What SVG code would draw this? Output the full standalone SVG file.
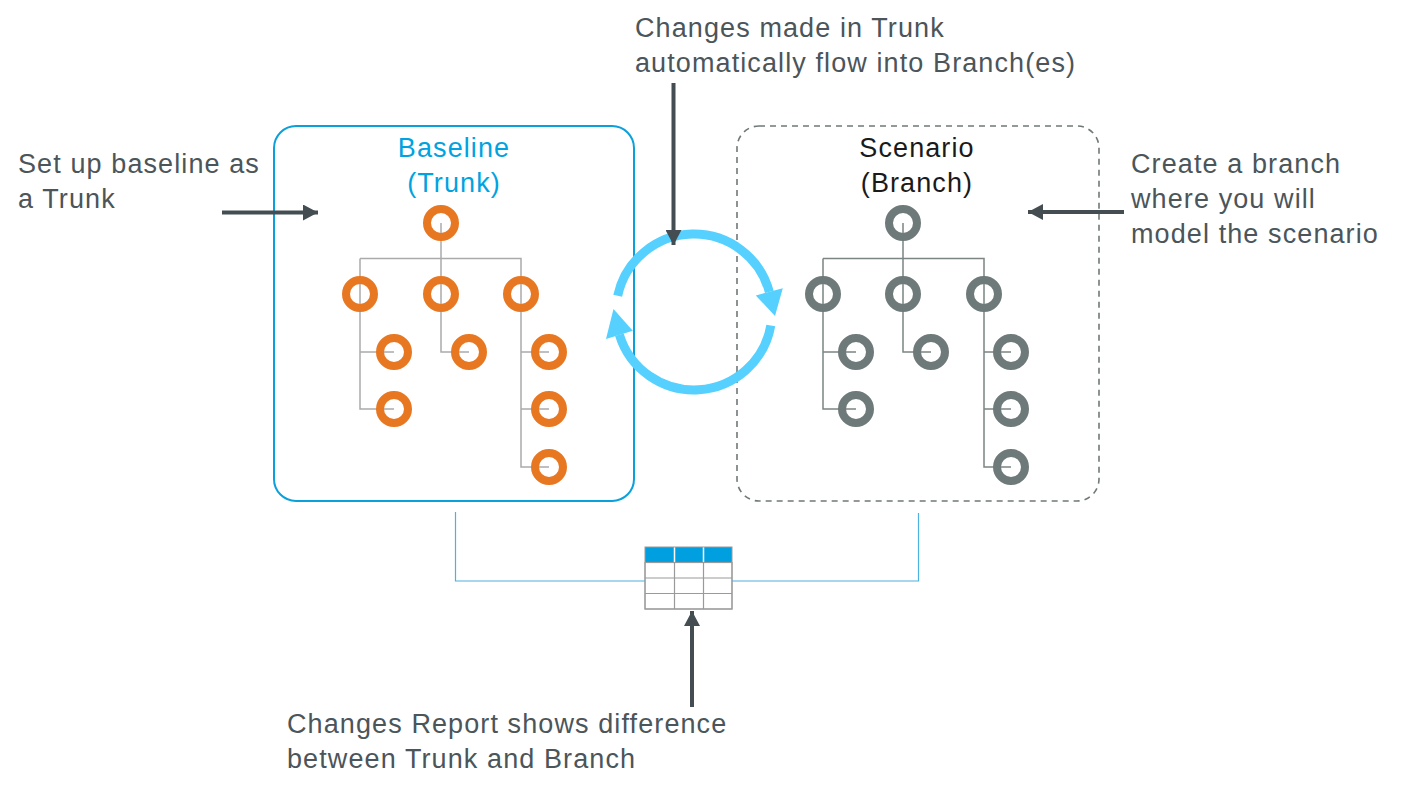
<svg xmlns="http://www.w3.org/2000/svg" width="1405" height="810" viewBox="0 0 1405 810">
<style>
.txt{font-family:"Liberation Sans",Arial,sans-serif;font-size:27px;letter-spacing:1.1px;fill:#4b555a}
.title{font-family:"Liberation Sans",Arial,sans-serif;font-size:27px;letter-spacing:1.1px;text-anchor:middle}
.orange{fill:none;stroke:#e87722;stroke-width:8}
.gray{fill:none;stroke:#6e7a79;stroke-width:8}
.treeA{fill:none;stroke:#aaaaaa;stroke-width:1.5}
.treeB{fill:none;stroke:#7a8584;stroke-width:1.5}
.dark{fill:none;stroke:#434d52;stroke-width:4}
.cyc{fill:none;stroke:#55d0ff;stroke-width:9}
.cychead{fill:#55d0ff}
.link{fill:none;stroke:#4cb2e0;stroke-width:1.2}
.grid{fill:#ffffff;stroke:#9a9a9a;stroke-width:1.2}
</style>
<defs>
<marker id="ah" markerUnits="userSpaceOnUse" markerWidth="15" markerHeight="16" refX="15" refY="8" orient="auto">
<path d="M0,0 L15,8 L0,16 z" fill="#434d52"/>
</marker>
</defs>
<rect width="1405" height="810" fill="#ffffff"/>

<g id="baseline">
<rect x="274" y="126" width="360" height="375" rx="22" fill="none" stroke="#0aa0dc" stroke-width="2"/>
<text class="title" x="454" y="157" fill="#00a3e0">Baseline</text>
<text class="title" x="454" y="192" fill="#00a3e0">(Trunk)</text>
<path class="treeA" d="M441,223 V294 M360,258.5 H521 V467 H549 M360,258.5 V409 H394 M360,352 H394 M441,294 V352 H469 M521,409 H549 M521,352 H549"/>
<circle class="orange" cx="441" cy="223" r="14"/>
<circle class="orange" cx="360" cy="294" r="14"/>
<circle class="orange" cx="441" cy="294" r="14"/>
<circle class="orange" cx="521" cy="294" r="14"/>
<circle class="orange" cx="394" cy="352" r="14"/>
<circle class="orange" cx="469" cy="352" r="14"/>
<circle class="orange" cx="549" cy="352" r="14"/>
<circle class="orange" cx="394" cy="409" r="14"/>
<circle class="orange" cx="549" cy="409" r="14"/>
<circle class="orange" cx="549" cy="467" r="14"/>
</g>

<g id="scenario">
<rect x="737" y="126" width="362" height="375" rx="22" fill="none" stroke="#707878" stroke-width="1.6" stroke-dasharray="6,5"/>
<text class="title" x="917" y="157" fill="#1a1a1a">Scenario</text>
<text class="title" x="917" y="192" fill="#1a1a1a">(Branch)</text>
<path class="treeB" d="M903,223 V294 M823,258.5 H984 V467 H1011 M823,258.5 V409 H856 M823,352 H856 M903,294 V352 H931 M984,409 H1011 M984,352 H1011"/>
<circle class="gray" cx="903" cy="223" r="14"/>
<circle class="gray" cx="823" cy="294" r="14"/>
<circle class="gray" cx="903" cy="294" r="14"/>
<circle class="gray" cx="984" cy="294" r="14"/>
<circle class="gray" cx="856" cy="352" r="14"/>
<circle class="gray" cx="931" cy="352" r="14"/>
<circle class="gray" cx="1011" cy="352" r="14"/>
<circle class="gray" cx="856" cy="409" r="14"/>
<circle class="gray" cx="1011" cy="409" r="14"/>
<circle class="gray" cx="1011" cy="467" r="14"/>
</g>

<g id="changes-report">
<rect x="645" y="547" width="87" height="15.5" fill="#009fdf"/>
<path d="M674.5,547 V562.5 M703.5,547 V562.5" stroke="#ffffff" stroke-width="1.5"/>
<rect class="grid" x="645" y="562.5" width="87" height="46.5"/>
<path class="grid" d="M645,578 H732 M645,593.5 H732 M674.5,562.5 V609 M703.5,562.5 V609"/>
<rect x="645" y="547" width="87" height="62" fill="none" stroke="#9a9a9a" stroke-width="1"/>
</g>

<g id="sync-cycle">
<path class="cyc" d="M617.7,295.8 A78,78 0 0 1 769.3,291.8"/>
<polygon class="cychead" points="782.8,288.2 755.8,295.4 775,316"/>
<path class="cyc" d="M770.8,325.5 A78,78 0 0 1 619.4,334.8"/>
<polygon class="cychead" points="606,338.9 632.8,330.7 613.5,309"/>
</g>

<g id="connectors">
<path class="link" d="M455.5,512 V581 H645 M918.5,513 V581 H732"/>
<line class="dark" x1="222" y1="212.5" x2="318" y2="212.5" marker-end="url(#ah)"/>
<line class="dark" x1="1124" y1="212" x2="1028" y2="212" marker-end="url(#ah)"/>
<line class="dark" x1="673.5" y1="83" x2="673.5" y2="245" marker-end="url(#ah)"/>
<line class="dark" x1="692" y1="707" x2="692" y2="611" marker-end="url(#ah)"/>
</g>

<g id="labels">
<text class="txt" x="18" y="173">Set up baseline as</text>
<text class="txt" x="18" y="208">a Trunk</text>
<text class="txt" x="635" y="37">Changes made in Trunk</text>
<text class="txt" x="635" y="72">automatically flow into Branch(es)</text>
<text class="txt" x="1131" y="173">Create a branch</text>
<text class="txt" x="1131" y="208">where you will</text>
<text class="txt" x="1131" y="243">model the scenario</text>
<text class="txt" x="287" y="733">Changes Report shows difference</text>
<text class="txt" x="287" y="768">between Trunk and Branch</text>
</g>
</svg>
